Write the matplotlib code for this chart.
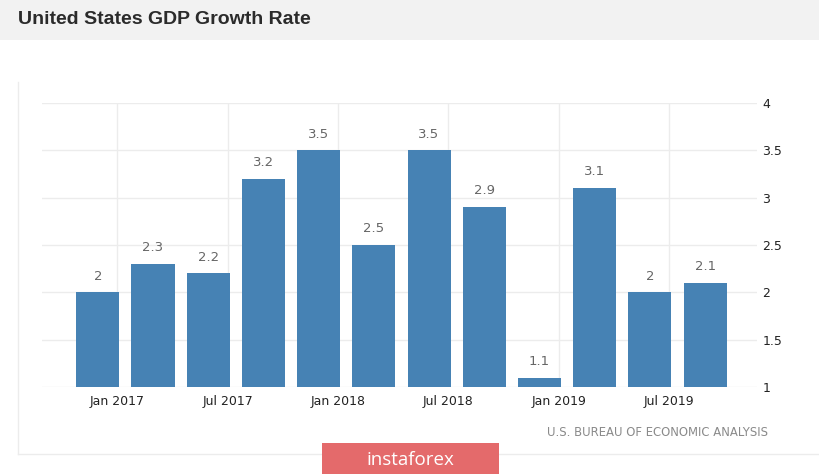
import matplotlib
matplotlib.use("Agg")
import matplotlib.pyplot as plt
from matplotlib.patches import Rectangle

# ---- data ----
quarters = ["Q4 2016", "Q1 2017", "Q2 2017", "Q3 2017", "Q4 2017", "Q1 2018",
            "Q2 2018", "Q3 2018", "Q4 2018", "Q1 2019", "Q2 2019", "Q3 2019"]
growth = [2.0, 2.3, 2.2, 3.2, 3.5, 2.5, 3.5, 2.9, 1.1, 3.1, 2.0, 2.1]
value_labels = ["2", "2.3", "2.2", "3.2", "3.5", "2.5", "3.5", "2.9", "1.1", "3.1", "2", "2.1"]
tick_labels = ["Jan 2017", "Jul 2017", "Jan 2018", "Jul 2018", "Jan 2019", "Jul 2019"]
y_ticks = [1, 1.5, 2, 2.5, 3, 3.5, 4]
y_tick_labels = ["1", "1.5", "2", "2.5", "3", "3.5", "4"]
title = "United States GDP Growth Rate"
source = "U.S. BUREAU OF ECONOMIC ANALYSIS"

W, H = 820, 474
fig = plt.figure(figsize=(W / 100, H / 100), dpi=100)
fig.patch.set_facecolor("white")

# header band
fig.patches.append(Rectangle((0, 1 - 40 / H), 1, 40 / H, transform=fig.transFigure,
                             facecolor="#f2f2f2", edgecolor="none", zorder=0))
fig.text(18 / W, 1 - 20 / H, title, fontsize=14, fontweight="bold",
         family=["Liberation Sans", "DejaVu Sans"], color="#2b2b2b", va="center", ha="left")

# axes placement
left, right = 42, 757
top, bottom = 103, 387
ax = fig.add_axes([left / W, 1 - bottom / H, (right - left) / W, (bottom - top) / H])
ax.set_facecolor("white")

x = list(range(len(growth)))
ax.bar(x, growth, width=0.78, bottom=0, color="#4682b4", zorder=3)
ax.set_ylim(1, 4)
ax.set_xlim(-1.01, 11.94)

for xi, v, lab in zip(x, growth, value_labels):
    ax.annotate(lab, (xi, v), xytext=(0, 7), textcoords="offset points",
                ha="center", va="bottom", fontsize=9.5, color="#666666",
                family="DejaVu Sans", zorder=4)

tick_pos = [i + 0.35 for i in range(0, len(growth), 2)]
ax.set_xticks(tick_pos)
ax.set_xticklabels(tick_labels, fontsize=9, color="#222222")
ax.set_yticks(y_ticks)
ax.set_yticklabels(y_tick_labels, fontsize=9, color="#222222")
ax.yaxis.tick_right()
ax.tick_params(axis="both", length=0)
ax.tick_params(axis="y", pad=4)
ax.tick_params(axis="x", pad=6)
ax.grid(True, color="#ececec", linewidth=1, zorder=0)
for s in ax.spines.values():
    s.set_visible(False)

# source
fig.text(768 / W, 1 - 433 / H, source, fontsize=8.4, color="#8a8a8a",
         ha="right", va="center", family="DejaVu Sans")

# frame lines
fig.add_artist(plt.Line2D([18 / W, 1], [1 - 454 / H, 1 - 454 / H], transform=fig.transFigure,
                          color="#ececec", linewidth=1))
fig.add_artist(plt.Line2D([18 / W, 18 / W], [1 - 82 / H, 1 - 454 / H], transform=fig.transFigure,
                          color="#ececec", linewidth=1))

# watermark logo
fig.patches.append(Rectangle((322 / W, 0), (499 - 322) / W, (474 - 443) / H,
                             transform=fig.transFigure, facecolor="#e46a6b",
                             edgecolor="none", zorder=5))
fig.text(410 / W, 1 - 460 / H, "instaforex", fontsize=13.5, color="white",
         ha="center", va="center", family="Open Sans", zorder=6)

fig.savefig("out.png", dpi=100)
